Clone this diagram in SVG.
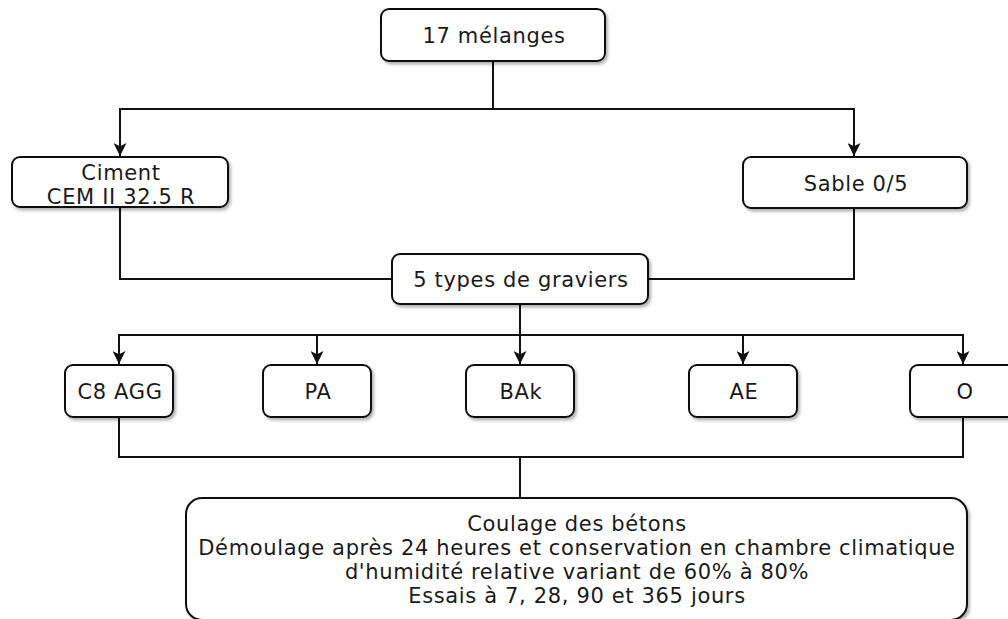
<svg xmlns="http://www.w3.org/2000/svg" width="1008" height="619" viewBox="0 0 1008 619">
<defs>
<filter id="sh" x="-10%" y="-10%" width="130%" height="140%">
<feDropShadow dx="2" dy="2.5" stdDeviation="1.5" flood-color="#000" flood-opacity="0.3"/>
</filter>
<marker id="arr" viewBox="0 0 10 10" refX="10" refY="5" markerWidth="7" markerHeight="6.5" markerUnits="strokeWidth" orient="auto">
<path d="M0,0 L10,5 L0,10 L2.5,5 Z" fill="#111"/>
</marker>
<style>
.n rect{fill:#fff;stroke:#111;stroke-width:2;filter:url(#sh)}
.n text{font-family:"DejaVu Sans",Verdana,sans-serif;font-size:21px;letter-spacing:0.65px;fill:#1a1a1a;text-anchor:middle}
#connectors path{fill:none;stroke:#111;stroke-width:2}
.a{marker-end:url(#arr)}
</style>
</defs>
<rect width="1008" height="619" fill="#fff"/>
<g id="connectors">
<path class="a" d="M493,61 V109 H120 V156"/>
<path class="a" d="M493,109 H854 V156"/>
<path d="M120,207 V279 H392"/>
<path d="M854,208 V279 H648"/>
<path class="a" d="M520,304 V335 H119 V364"/>
<path class="a" d="M520,335 H317 V364"/>
<path class="a" d="M520,304 V364"/>
<path class="a" d="M520,335 H743 V364"/>
<path class="a" d="M520,335 H963 V364"/>
<path d="M119,417 V457 H963 V417"/>
<path d="M520,457 V498"/>
</g>
<g id="n-melanges" class="n"><rect x="381" y="9" width="224" height="52" rx="8"/><text x="494" y="43">17 mélanges</text></g>
<g id="n-ciment" class="n"><rect x="12" y="157" width="216" height="50" rx="8"/><text x="121" y="180">Ciment</text><text x="121" y="204">CEM II 32.5 R</text></g>
<g id="n-sable" class="n"><rect x="743" y="157" width="224" height="51" rx="8"/><text x="856" y="191">Sable 0/5</text></g>
<g id="n-graviers" class="n"><rect x="392" y="254" width="256" height="50" rx="8"/><text x="521" y="287">5 types de graviers</text></g>
<g id="n-c8agg" class="n"><rect x="65" y="365" width="108" height="52" rx="8"/><text x="120" y="399">C8 AGG</text></g>
<g id="n-pa" class="n"><rect x="263" y="365" width="108" height="52" rx="8"/><text x="318" y="399">PA</text></g>
<g id="n-bak" class="n"><rect x="466" y="365" width="108" height="52" rx="8"/><text x="521" y="399">BAk</text></g>
<g id="n-ae" class="n"><rect x="689" y="365" width="108" height="52" rx="8"/><text x="744" y="399">AE</text></g>
<g id="n-o" class="n"><rect x="910" y="365" width="108" height="52" rx="8"/><text x="965" y="399">O</text></g>
<g id="n-coulage" class="n"><rect x="186" y="498" width="781" height="122" rx="16"/>
<text x="577" y="531">Coulage des bétons</text>
<text x="577" y="555">Démoulage après 24 heures et conservation en chambre climatique</text>
<text x="577" y="579">d'humidité relative variant de 60% à 80%</text>
<text x="577" y="603">Essais à 7, 28, 90 et 365 jours</text>
</g>
</svg>
